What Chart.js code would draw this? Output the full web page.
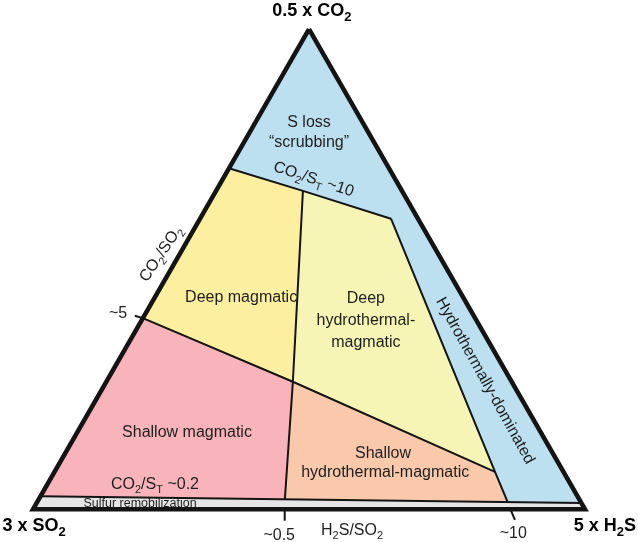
<!DOCTYPE html>
<html>
<head>
<meta charset="utf-8">
<script src="https://cdn.jsdelivr.net/npm/chart.js@4.4.1/dist/chart.umd.min.js"></script>
<style>
  html, body { margin: 0; padding: 0; background: #fff; }
  #chart { display: block; }
</style>
</head>
<body>
<canvas id="chart" width="638" height="542"></canvas>
<script>
// Ternary gas-composition diagram (0.5xCO2 / 3xSO2 / 5xH2S).
// Every vertex is a ternary composition [CO2 %, H2S %]; SO2 is the rest.
// Converted to cartesian diagram units (base 0..100) before Chart.js sees it.

const outerTriangle        = [[100, 0], [0, 0], [0, 100], [100, 0]];
const deepMagmatic         = [[71, 0], [66.3, 15.75], [26.55, 33.8], [39.8, 0], [71, 0]];
const deepHydroMagmatic    = [[66.3, 15.75], [60.5, 34.6], [7.8, 79.8], [26.55, 33.8], [66.3, 15.75]];
const shallowMagmatic      = [[39.8, 0], [26.55, 33.8], [2.05, 44.6], [2.7, 0], [39.8, 0]];
const shallowHydroMagmatic = [[26.55, 33.8], [7.8, 79.8], [1.48, 85.25], [2.05, 44.6], [26.55, 33.8]];
const sulfurStrip          = [[2.7, 0], [0, 0], [0, 100], [1.3, 98.7], [2.7, 0]];

// boundary lines
const co2St10Line  = [[71, 0], [66.3, 15.75], [60.5, 34.6]];
const hydroLine    = [[60.5, 34.6], [7.8, 79.8], [1.48, 85.25]];
const h2sSo2Line   = [[66.3, 15.75], [26.55, 33.8], [2.05, 44.6]];
const co2So2Line   = [[39.8, 0], [26.55, 33.8], [7.8, 79.8]];
const co2St02Line  = [[2.7, 0], [1.3, 98.7]];

// axis ticks (~5 on CO2/SO2, ~0.5 and ~10 on H2S/SO2)
const tickCo2So2_5   = [[39.8, 0], [40.3, -1.7]];
const tickH2sSo2_05  = [[0, 45.6], [-2.4, 46.8]];
const tickH2sSo2_10  = [[0, 86.5], [-2.2, 88.4]];

const HEIGHT = 0.87; // triangle height per unit of CO2 (drawing is nearly equilateral)

function toXY(list) {
  return list.map(([c, h]) => ({ x: h + c / 2, y: c * HEIGHT }));
}

const COLORS = {
  blue:   '#bde0f1',
  yellow: '#fcef9f',
  lime:   '#f6f5b5',
  pink:   '#f9b4bb',
  peach:  '#fac8aa',
  grey:   '#e5e5e6',
  line:   '#141414',
};

function area(data, color, order) {
  return {
    data: toXY(data), showLine: true, fill: 'shape', backgroundColor: color,
    borderWidth: 0, borderColor: color, pointRadius: 0, tension: 0, order,
  };
}
function line(data, width, order) {
  return {
    data: toXY(data), showLine: true, fill: false, borderColor: COLORS.line,
    borderWidth: width, pointRadius: 0, tension: 0, order,
    borderJoinStyle: 'miter', borderCapStyle: 'butt',
  };
}

// Label anchors in cartesian diagram units (same space as the data above).
const labelAnchors = [
  { text: '0.5 x CO_2', x: 50.5, y: 89.4, size: 18, bold: true },
  { text: '3 x SO_2', x: 0.2, y: -3.9, size: 18, bold: true },
  { text: '5 x H_2S', x: 103.6, y: -3.9, size: 18, bold: true },
  { text: 'S loss', x: 50.0, y: 69.3, size: 16 },
  { text: '\u201Cscrubbing\u201D', x: 50.0, y: 65.7, size: 16 },
  { text: 'CO_2/S_T ~10', x: 50.9, y: 60.0, size: 16, rot: 18, mid: true },
  { text: 'Deep magmatic', x: 37.7, y: 37.6, size: 16 },
  { text: 'Deep', x: 60.3, y: 37.4, size: 16 },
  { text: 'hydrothermal-', x: 60.3, y: 33.4, size: 16 },
  { text: 'magmatic', x: 60.3, y: 29.4, size: 16 },
  { text: 'Shallow magmatic', x: 27.9, y: 13.1, size: 16 },
  { text: 'CO_2/S_T ~0.2', x: 22.1, y: 3.7, size: 16 },
  { text: 'Sulfur remobilization', x: 19.4, y: 0.45, size: 12.5 },
  { text: 'Shallow', x: 63.4, y: 9.3, size: 16 },
  { text: 'hydrothermal-magmatic', x: 63.8, y: 5.85, size: 16 },
  { text: 'Hydrothermally-dominated', x: 82.1, y: 23.4, size: 16, rot: 61, mid: true },
  { text: 'CO_2/SO_2', x: 23.0, y: 46.4, size: 16, rot: -56, mid: true },
  { text: '~5', x: 15.4, y: 34.6, size: 16 },
  { text: '~0.5', x: 44.6, y: -5.55, size: 16 },
  { text: 'H_2S/SO_2', x: 57.8, y: -4.65, size: 16 },
  { text: '~10', x: 87.0, y: -5.2, size: 16 },
];

const FONT = "'Liberation Sans', Arial, Helvetica, sans-serif";

// split 'CO_2/S_T' into runs; '_' marks the next char as subscript
function runs(text) {
  const out = [];
  for (let i = 0; i < text.length; i++) {
    if (text[i] === '_') { out.push({ t: text[i + 1], sub: true }); i++; }
    else if (out.length && !out[out.length - 1].sub) out[out.length - 1].t += text[i];
    else out.push({ t: text[i], sub: false });
  }
  return out;
}

const labelPlugin = {
  id: 'ternaryLabels',
  afterDatasetsDraw(chart) {
    const { ctx, scales: { x, y } } = chart;
    ctx.save();
    ctx.textBaseline = 'alphabetic';
    ctx.textAlign = 'left';
    for (const lab of labelAnchors) {
      const px = x.getPixelForValue(lab.x);
      const py = y.getPixelForValue(lab.y);
      const w = lab.bold ? 'bold ' : '';
      const subSize = Math.round(lab.size * 0.7);
      const parts = runs(lab.text);
      let total = 0;
      for (const p of parts) {
        ctx.font = w + (p.sub ? subSize : lab.size) + 'px ' + FONT;
        p.w = ctx.measureText(p.t).width;
        total += p.w;
      }
      ctx.save();
      ctx.translate(px, py);
      ctx.rotate((lab.rot || 0) * Math.PI / 180);
      ctx.fillStyle = lab.bold ? '#000' : '#1e1e1e';
      let cx = -total / 2;
      const base = lab.mid ? lab.size * 0.36 : 0;
      for (const p of parts) {
        ctx.font = w + (p.sub ? subSize : lab.size) + 'px ' + FONT;
        ctx.fillText(p.t, cx, base + (p.sub ? lab.size * 0.28 : 0));
        cx += p.w;
      }
      ctx.restore();
    }
    ctx.restore();
  },
};

new Chart(document.getElementById('chart'), {
  type: 'scatter',
  data: {
    datasets: [
      line(outerTriangle, 4.5, 1),
      line(tickCo2So2_5, 2, 2),
      line(tickH2sSo2_05, 2, 2),
      line(tickH2sSo2_10, 2, 2),
      line(co2St10Line, 2, 3),
      line(hydroLine, 2, 3),
      line(h2sSo2Line, 2, 3),
      line(co2So2Line, 2, 3),
      line(co2St02Line, 2, 3),
      area(deepMagmatic, COLORS.yellow, 5),
      area(deepHydroMagmatic, COLORS.lime, 5),
      area(shallowMagmatic, COLORS.pink, 5),
      area(shallowHydroMagmatic, COLORS.peach, 5),
      area(sulfurStrip, COLORS.grey, 5),
      area(outerTriangle, COLORS.blue, 10),
    ],
  },
  options: {
    responsive: false,
    animation: false,
    layout: { padding: 0 },
    plugins: { legend: { display: false }, tooltip: { enabled: false } },
    events: [],
    scales: {
      x: { type: 'linear', display: false, min: -5.978, max: 109.6 },
      y: { type: 'linear', display: false, min: -5.924, max: 92.26 },
    },
  },
  plugins: [labelPlugin],
});
</script>
</body>
</html>
